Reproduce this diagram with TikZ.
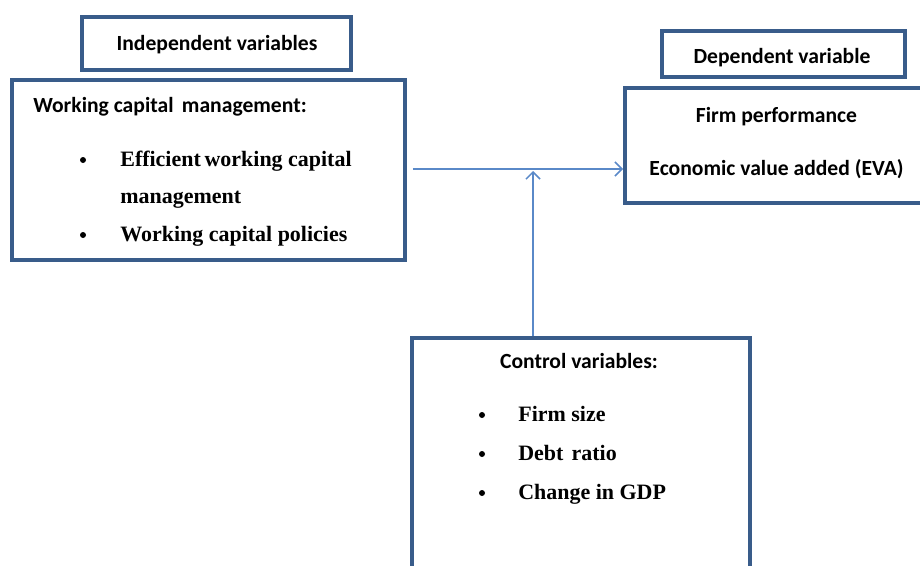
\documentclass[tikz,border=0pt]{standalone}
\usepackage{fontspec}
\setmainfont{Liberation Serif}
\newfontfamily\calibri{Carlito}
\usetikzlibrary{arrows.meta}
\definecolor{boxline}{HTML}{395C8A}
\definecolor{arrline}{HTML}{5A89C8}

\begin{document}
\begin{tikzpicture}[
            x=0.02cm, y=-0.02cm,
            box/.style={draw=boxline, line width=2.3pt, inner sep=0pt},
            head/.style={font=\calibri\bfseries\fontsize{12.3}{14}\selectfont, inner sep=0pt, anchor=base},
            item/.style={font=\bfseries\fontsize{12.5}{15}\selectfont, anchor=base west, inner sep=0pt},
            dot/.style={circle, fill=black, minimum size=0.12cm, inner sep=0pt},
            arr/.style={draw=arrline, line width=0.9pt, -{Straight Barb[length=4pt,width=8pt]}}
        ]
            \useasboundingbox (0,0) rectangle (920,565);
            \clip (0,0) rectangle (920,565);

            \node [box, minimum width=5.38cm, minimum height=1.06cm] (indep) at (216.5,43.5) {};
            \node [head] (indeplbl) at (217,50) {Independent variables};

            \node [box, minimum width=7.86cm, minimum height=3.6cm] (wcm) at (208.5,170) {};
            \node [head, anchor=base west] (wcmlbl) at (33,112) {Working capital\kern2pt\ management:};
            \node [dot] (d1) at (83,160) {};
            \node [item] (wcm1) at (120,166) {Efficient\kern-1pt\ working capital};
            \node [item] (wcm1b) at (120,203) {management};
            \node [dot] (d2) at (83,235) {};
            \node [item] (wcm2) at (120,241) {Working capital policies};

            \node [box, minimum width=4.86cm, minimum height=0.92cm] (dep) at (783.5,54) {};
            \node [head] (deplbl) at (782,63) {Dependent variable};

            \node [box, minimum width=7.2cm, minimum height=2.3cm] (perf) at (805,145.5) {};
            \node [head] (perflbl) at (776.5,122) {Firm performance};
            \node [head] (evalbl) at (776.5,175) {Economic value added (EVA)};

            \node [box, minimum width=6.76cm, minimum height=6cm] (ctrl) at (581,488) {};
            \node [head] (ctrllbl) at (579,368) {Control variables:};
            \node [dot] (d3) at (482,415) {};
            \node [item] (c1) at (518,421) {Firm size};
            \node [dot] (d4) at (482,454) {};
            \node [item] (c2) at (518,460) {Debt\kern1.5pt\ ratio};
            \node [dot] (d5) at (482,493) {};
            \node [item] (c3) at (518,499) {Change in GDP};

            \coordinate (join) at (533,169);
            \draw [arr] ([xshift=0.12cm]wcm.east |- join) -- (perf.west |- join);
            \draw [arr] (join |- ctrl.north) -- ([yshift=-0.04cm]join);
        \end{tikzpicture}
\end{document}
